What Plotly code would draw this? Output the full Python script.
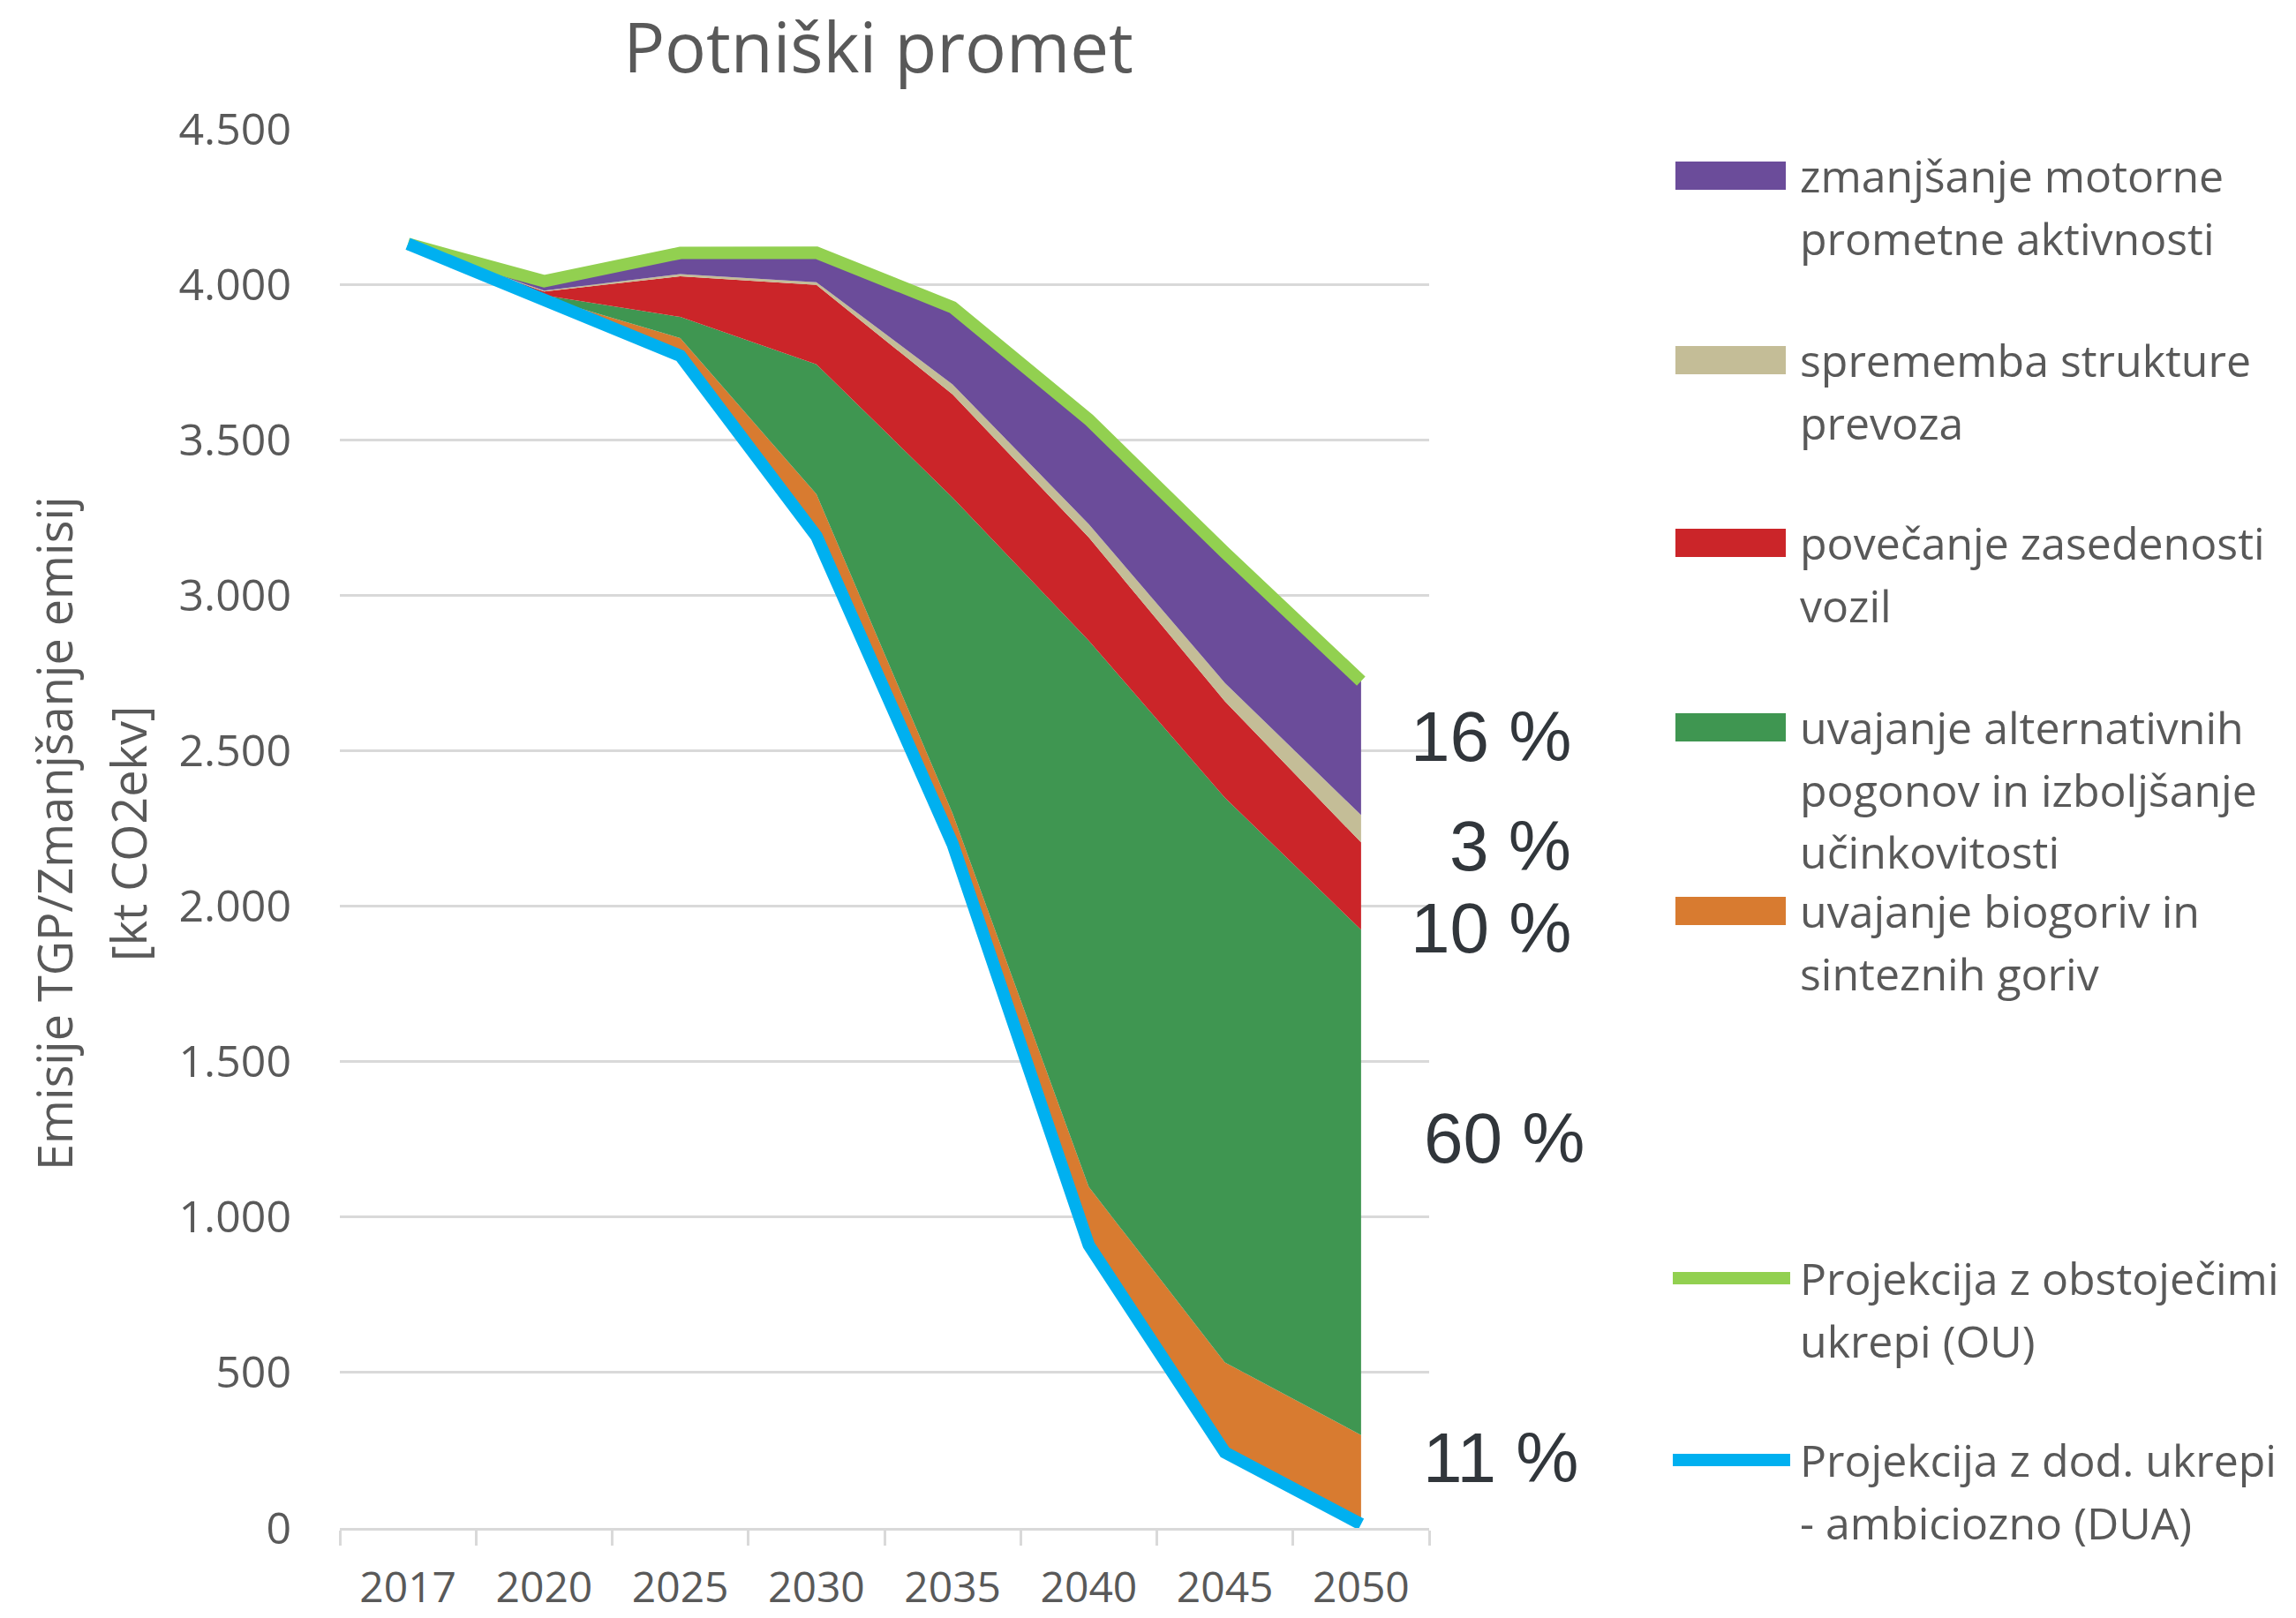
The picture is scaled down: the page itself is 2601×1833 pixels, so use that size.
import plotly.graph_objects as go

# ---------------- data ----------------
years = ["2017", "2020", "2025", "2030", "2035", "2040", "2045", "2050"]

# projection lines [kt CO2ekv]
ou_projection = [4130, 4010, 4101, 4102, 3926, 3565, 3137, 2724]    # Projekcija z obstoječimi ukrepi (OU)
dua_projection = [4130, 3955, 3770, 3190, 2200, 910, 243, 12]       # Projekcija z dod. ukrepi - ambiciozno (DUA)

# emission reductions stacked on top of DUA (bottom -> top)
biogoriva = [0, 2, 57, 135, 98, 187, 289, 287]
alt_pogoni = [0, 8, 68, 418, 1016, 1757, 1817, 1625]
zasedenost = [0, 12, 131, 255, 332, 332, 310, 281]
struktura = [0, 3, 7, 9, 32, 43, 59, 88]
aktivnost = [0, 30, 68, 95, 248, 336, 419, 431]

layer_values = [biogoriva, alt_pogoni, zasedenost, struktura, aktivnost]
layer_names = [
    ["uvajanje biogoriv in", "sinteznih goriv"],
    ["uvajanje alternativnih", "pogonov in izboljšanje", "učinkovitosti"],
    ["povečanje zasedenosti", "vozil"],
    ["sprememba strukture", "prevoza"],
    ["zmanjšanje motorne", "prometne aktivnosti"],
]
layer_colors = ["#d87b30", "#3f9651", "#cb2529", "#c4bd97", "#6b4c9a"]

line_names = [
    ["Projekcija z obstoječimi", "ukrepi (OU)"],
    ["Projekcija z dod. ukrepi", "- ambiciozno (DUA)"],
]
line_colors = ["#92d050", "#00b0f0"]

title_text = "Potniški promet"
y_title_lines = ["Emisije TGP/Zmanjšanje emisij", "[kt CO2ekv]"]

# ---------------- geometry helpers (layout only) ----------------
W, H = 2601, 1833
PL, PR, PT, PB = 385, 1619, 146, 1731


def xp(px):
    return (px - PL) / (PR - PL)


def yp(py):
    return (PB - py) / (PB - PT)


GRAY = "#595959"
GRID = "#d9d9d9"
FONT = "Open Sans"

fig = go.Figure()

# invisible baseline = DUA, then stacked reductions
fig.add_trace(go.Scatter(
    x=years, y=dua_projection, stackgroup="s", mode="lines",
    line=dict(width=0, color="rgba(0,0,0,0)"), fill="none",
    showlegend=False, hoverinfo="skip"))

for vals, names, col in zip(layer_values, layer_names, layer_colors):
    fig.add_trace(go.Scatter(
        x=years, y=vals, stackgroup="s", mode="lines",
        line=dict(width=0, color=col), fill="tonexty", fillcolor=col,
        name=" ".join(names), showlegend=False))

for vals, names, col in zip([ou_projection, dua_projection], line_names, line_colors):
    fig.add_trace(go.Scatter(
        x=years, y=vals, mode="lines",
        line=dict(width=14, color=col),
        name=" ".join(names), showlegend=False))

annotations = []
shapes = []

# y-axis title (two lines)
for txt, px in zip(y_title_lines, [61, 145]):
    annotations.append(dict(
        text=txt, textangle=-90, xref="paper", yref="paper",
        x=xp(px), y=yp(944), xanchor="center", yanchor="middle",
        showarrow=False, font=dict(family=FONT, size=54, color=GRAY)))

# percentage labels at 2050 computed from data
total_2050 = ou_projection[-1] - dua_projection[-1]
pct_layers = [aktivnost, struktura, zasedenost, alt_pogoni, biogoriva]
pct_y = [2545, 2193, 1929, 1253, 227]
pct_xr = [1782, 1782, 1782, 1797, 1790]
for vals, yv, xr in zip(pct_layers, pct_y, pct_xr):
    pct = round(vals[-1] / total_2050 * 100)
    annotations.append(dict(
        text=f"{pct} %", xref="paper", yref="y", x=xp(xr), y=yv,
        xanchor="right", yanchor="middle", showarrow=False,
        font=dict(family="Liberation Sans", size=80, color="#31363b")))

# custom legend
legend_entries = list(zip(layer_names[::-1], layer_colors[::-1], ["rect"] * 5)) + \
    list(zip(line_names, line_colors, ["line"] * 2))
legend_first_line_y = [199, 408, 615, 824, 1032, 1448, 1654]
LINE_H = 70.5
for (names, col, kind), y0 in zip(legend_entries, legend_first_line_y):
    if kind == "rect":
        shapes.append(dict(type="rect", xref="paper", yref="paper",
                           x0=xp(1898), x1=xp(2023), y0=yp(y0 - 16), y1=yp(y0 + 16),
                           fillcolor=col, line=dict(width=0)))
    else:
        shapes.append(dict(type="line", xref="paper", yref="paper",
                           x0=xp(1895), x1=xp(2028), y0=yp(y0), y1=yp(y0),
                           line=dict(color=col, width=14)))
    for i, t in enumerate(names):
        annotations.append(dict(
            text=t, xref="paper", yref="paper", x=xp(2037), y=yp(y0 + i * LINE_H),
            xanchor="left", yanchor="middle", showarrow=False,
            font=dict(family=FONT, size=50, color=GRAY)))

fig.update_layout(
    width=W, height=H,
    margin=dict(l=PL, r=W - PR, t=PT, b=H - PB, pad=0, autoexpand=False),
    paper_bgcolor="white", plot_bgcolor="white",
    separators=",.",
    showlegend=False,
    title=dict(text=title_text, x=995 / W, xref="container", xanchor="center",
               y=1 - 55 / H, yref="container", yanchor="middle",
               font=dict(family=FONT, size=78, color=GRAY)),
    xaxis=dict(type="category", range=[-0.5, 7.5], tickson="boundaries",
               ticks="outside", ticklen=17, tickwidth=3, tickcolor=GRID,
               showline=True, linecolor=GRID, linewidth=3,
               showgrid=False, ticklabelstandoff=23, automargin=False,
               tickfont=dict(family=FONT, size=48, color=GRAY)),
    yaxis=dict(range=[0, 4500], dtick=500, tickformat=",d",
               showgrid=True, gridcolor=GRID, gridwidth=3,
               zeroline=False, showline=False, ticks="",
               ticklabelstandoff=54, automargin=False,
               tickfont=dict(family=FONT, size=50, color=GRAY)),
    annotations=annotations, shapes=shapes,
)

fig.write_html("out.html", config={"displayModeBar": False},
               post_script="document.body.style.margin='0';")
